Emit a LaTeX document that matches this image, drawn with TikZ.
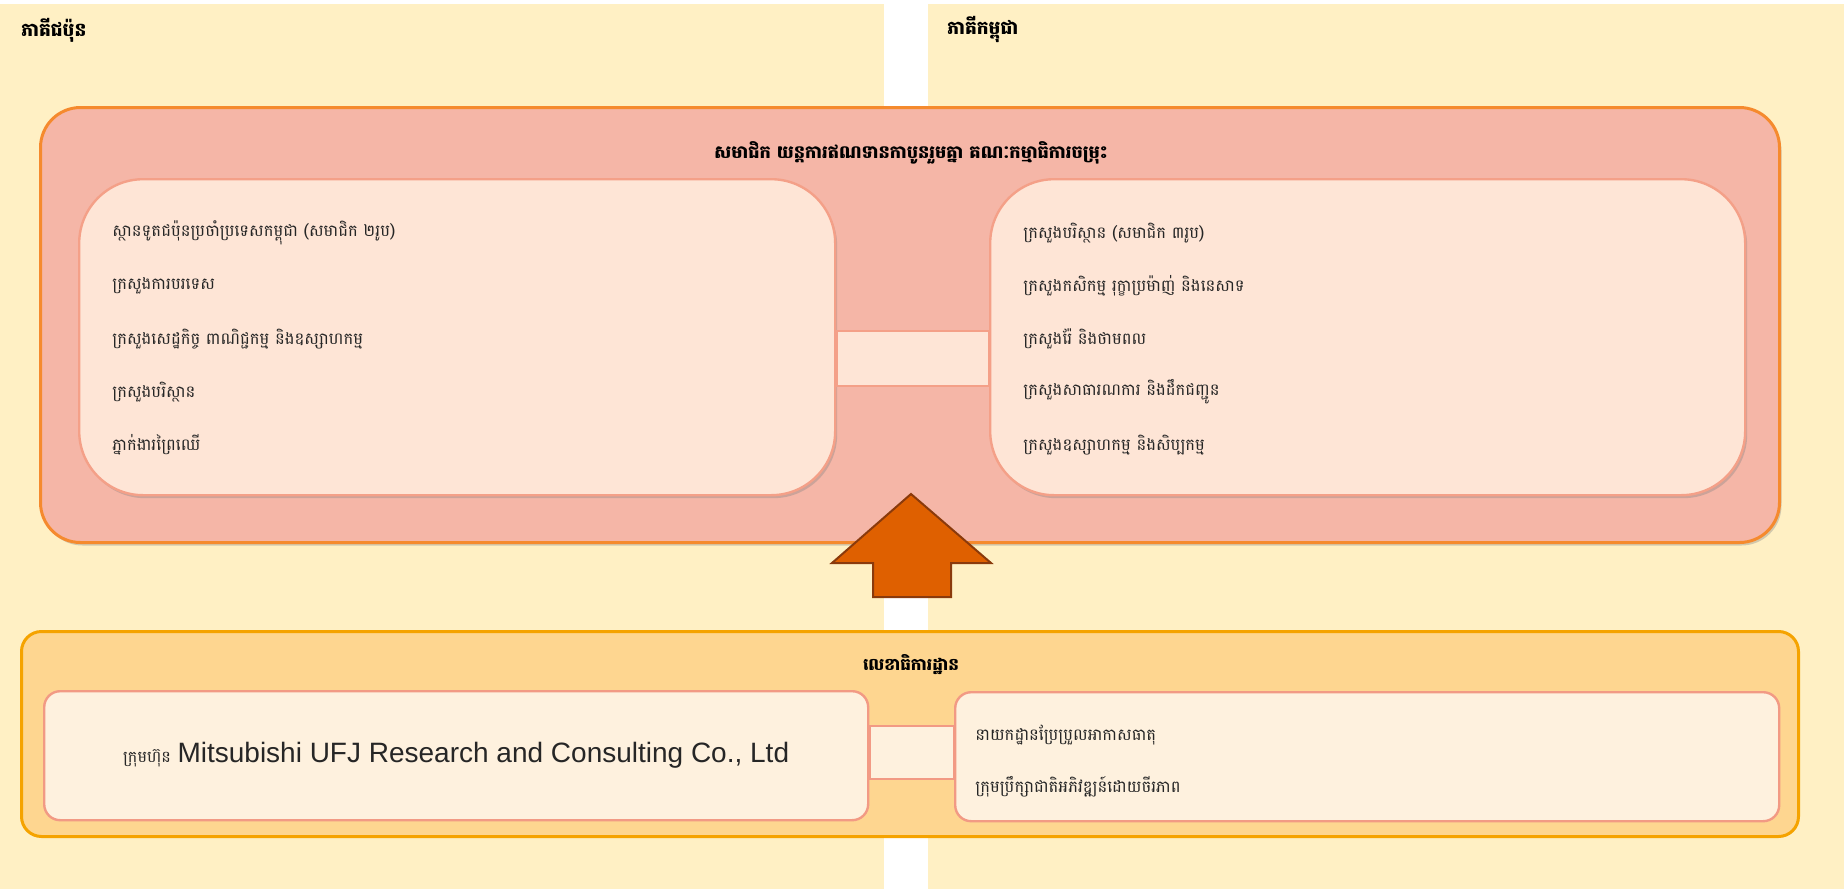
\documentclass[tikz,border=0pt]{standalone}
\usepackage{fontspec}
\usetikzlibrary{shadows}
\newfontfamily\km[Script=Khmer]{Battambang}
\newfontfamily\arial{Liberation Sans}
\definecolor{panel}{HTML}{FFF0C4}
\definecolor{jcmfill}{HTML}{F5B6A7}
\definecolor{jcmline}{HTML}{F58A2E}
\definecolor{innerfill}{HTML}{FEE5D6}
\definecolor{innerline}{HTML}{F4A088}
\definecolor{arrowfill}{HTML}{DF6000}
\definecolor{arrowline}{HTML}{8A3A0C}
\definecolor{secfill}{HTML}{FED690}
\definecolor{secline}{HTML}{F5A300}
\definecolor{secinner}{HTML}{FEF1DE}
\definecolor{secinline}{HTML}{F29A84}
\definecolor{txt}{HTML}{262626}
\tikzset{
  panelbox/.style={fill=panel, draw=none},
  jcmbox/.style={draw=jcmline, fill=jcmfill, line width=1.5pt, rounded corners=20pt,
    drop shadow={shadow xshift=1pt, shadow yshift=-1.5pt, opacity=0.35}},
  innerbox/.style={draw=innerline, fill=innerfill, line width=1.2pt, rounded corners=32pt,
    drop shadow={shadow xshift=1pt, shadow yshift=-1.5pt, opacity=0.35}},
  linkbox/.style={draw=innerline, fill=innerfill, line width=1.2pt},
  secbox/.style={draw=secline, fill=secfill, line width=1.5pt, rounded corners=10pt},
  secinbox/.style={draw=secinline, fill=secinner, line width=1.2pt, rounded corners=8pt},
  seclink/.style={draw=secinline, fill=secinner, line width=1.2pt},
  bigarrow/.style={draw=arrowline, fill=arrowfill, line width=1pt, line join=miter},
  head/.style={font=\km\bfseries\fontsize{9.3}{11}\selectfont, text=black, inner sep=0pt},
  item/.style={font=\km\fontsize{8.2}{10}\selectfont, text=txt, anchor=west, inner sep=0pt},
}
\begin{document}
\begin{tikzpicture}[x=0.5pt,y=-0.5pt]
\useasboundingbox (0,0) rectangle (1844,889);
% side panels
\fill[panelbox] (0,4) rectangle (884,889);
\fill[panelbox] (928,4) rectangle (1844,889);
\node[head, anchor=west] (jpside) at (21,30) {ភាគីជប៉ុន};
\node[head, anchor=west] (khside) at (947,30) {ភាគីកម្ពុជា};
% JCM joint committee
\node[jcmbox, minimum width=869.5pt, minimum height=217.5pt, anchor=north west] (jcm) at (39,106) {};
\node[head, font=\km\bfseries\fontsize{8.9}{11}\selectfont] (jcmtitle) at (911,153) {សមាជិក យន្តការឥណទានកាបូនរួមគ្នា គណៈកម្មាធិការចម្រុះ};
\node[innerbox, minimum width=378pt, minimum height=158pt, anchor=north west] (lbox) at (78,178) {};
\node[innerbox, minimum width=377.5pt, minimum height=158pt, anchor=north west] (rbox) at (989,178) {};
\draw[linkbox] (lbox.east |- 0,331) rectangle (rbox.west |- 0,386);
% left items
\node[item] (l1) at (112,233) {ស្ថានទូតជប៉ុនប្រចាំប្រទេសកម្ពុជា (សមាជិក ២រូប)};
\node[item] (l2) at (112,286) {ក្រសួងការបរទេស};
\node[item] (l3) at (112,339) {ក្រសួងសេដ្ឋកិច្ច ពាណិជ្ជកម្ម និងឧស្សាហកម្ម};
\node[item] (l4) at (112,392) {ក្រសួងបរិស្ថាន};
\node[item] (l5) at (112,445) {ភ្នាក់ងារព្រៃឈើ};
% right items
\node[item] (r1) at (1023,233) {ក្រសួងបរិស្ថាន (សមាជិក ៣រូប)};
\node[item] (r2) at (1023,286) {ក្រសួងកសិកម្ម រុក្ខាប្រម៉ាញ់ និងនេសាទ};
\node[item] (r3) at (1023,339) {ក្រសួងរ៉ែ និងថាមពល};
\node[item] (r4) at (1023,392) {ក្រសួងសាធារណការ និងដឹកជញ្ជូន};
\node[item] (r5) at (1023,445) {ក្រសួងឧស្សាហកម្ម និងសិប្បកម្ម};
% secretariat
\node[secbox, minimum width=888.5pt, minimum height=102.5pt, anchor=north west] (sec) at (20,630) {};
\node[head, font=\km\bfseries\fontsize{8.4}{10}\selectfont] (sectitle) at (911,665) {លេខាធិការដ្ឋាន};
\node[secinbox, minimum width=412pt, minimum height=64.5pt, anchor=north west] (mufg) at (43,690) {};
\node[secinbox, minimum width=412pt, minimum height=64.5pt, anchor=north west] (cam) at (954,691) {};
\draw[seclink] (mufg.east |- 0,726) rectangle (cam.west |- 0,779);
\node[inner sep=0pt, text=txt] (mufgtext) at (mufg.center) {{\km\fontsize{8}{10}\selectfont ក្រុមហ៊ុន} {\arial\fontsize{14}{16}\selectfont Mitsubishi UFJ Research and Consulting Co., Ltd}};
\node[item] (s1) at (975,735) {នាយកដ្ឋានប្រែប្រួលអាកាសធាតុ};
\node[item] (s2) at (975,787) {ក្រុមប្រឹក្សាជាតិអភិវឌ្ឍន៍ដោយចីរភាព};
% big arrow
\draw[bigarrow] (873,597) -- (873,563) -- (832,563) -- (911,494) -- (991,563) -- (951,563) -- (951,597) -- cycle;
\end{tikzpicture}
\end{document}
